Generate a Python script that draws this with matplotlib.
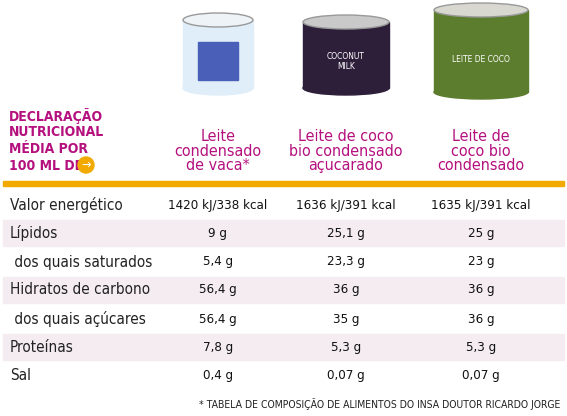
import matplotlib
matplotlib.use('Agg')
import matplotlib.pyplot as plt
from matplotlib.patches import Rectangle, Ellipse, Circle

plt.rcParams['font.family'] = ['DejaVu Sans']
plt.rcParams['font.stretch'] = 'condensed'

# data
products = ['Leite\ncondensado\nde vaca*', 'Leite de coco\nbio condensado\naçucarado', 'Leite de\ncoco bio\ncondensado']
nutrients = ['Valor energético', 'Lípidos', ' dos quais saturados', 'Hidratos de carbono',
             ' dos quais açúcares', 'Proteínas', 'Sal']
vaca = ['1420 kJ/338 kcal', '9 g', '5,4 g', '56,4 g', '56,4 g', '7,8 g', '0,4 g']
coco_acucarado = ['1636 kJ/391 kcal', '25,1 g', '23,3 g', '36 g', '35 g', '5,3 g', '0,07 g']
coco_bio = ['1635 kJ/391 kcal', '25 g', '23 g', '36 g', '36 g', '5,3 g', '0,07 g']
header = ['DECLARAÇÃO', 'NUTRICIONAL', 'MÉDIA POR', '100 ML DE']
note = '* TABELA DE COMPOSIÇÃO DE ALIMENTOS DO INSA DOUTOR RICARDO JORGE'

MAG = '#b5117e'
ORANGE = '#f2a900'

fig = plt.figure(figsize=(5.67, 4.16), dpi=100)
ax = fig.add_axes([0, 0, 1, 1])
ax.set_xlim(0, 567)
ax.set_ylim(416, 0)
ax.axis('off')

# stylised cans
def can(cx, top, w, h, body, lid, label=None):
    ax.add_patch(Rectangle((cx - w / 2, top), w, h, color=body, zorder=1))
    ax.add_patch(Ellipse((cx, top + h), w, 14, color=body, zorder=1))
    ax.add_patch(Ellipse((cx, top), w, 14, color=lid, ec='#999999', lw=1, zorder=2))
    if label:
        ax.text(cx, top + h * 0.6, label, color='white', ha='center', va='center', fontsize=6, zorder=3)

can(218, 20, 70, 68, '#dfeef8', '#eef3f8')
ax.add_patch(Rectangle((198, 42), 40, 38, color='#4a5fb8', zorder=2))
can(346, 22, 86, 66, '#2d1e3a', '#c9c9c9', 'COCONUT\nMILK')
can(481, 10, 94, 82, '#5d7d2e', '#d8d8d0', 'LEITE DE COCO')

# header
for i, line in enumerate(header):
    ax.text(9, 116 + i * 16.5, line, color=MAG, fontsize=10, fontweight='bold', va='center', ha='left')
ax.add_patch(Circle((86, 165), 8, color=ORANGE, zorder=3))
ax.text(86, 165, '→', color='white', fontsize=9, ha='center', va='center', zorder=4)
for x, p in zip([218, 346, 481], products):
    ax.text(x, 173, p, color=MAG, fontsize=11.5, ha='center', va='bottom', linespacing=0.95)

ax.add_patch(Rectangle((3, 181), 561, 5, color=ORANGE))

ys = [205, 233, 262, 290, 319, 347, 375]
for i, y in enumerate(ys):
    if i % 2 == 1:
        ax.add_patch(Rectangle((3, y - 13), 561, 26, color='#f4ecf0', zorder=0))
    ax.text(10, y, nutrients[i], fontsize=11, va='center', ha='left', color='#222222')
    ax.text(218, y, vaca[i], fontsize=9.5, va='center', ha='center', color='#111111')
    ax.text(346, y, coco_acucarado[i], fontsize=9.5, va='center', ha='center', color='#111111')
    ax.text(481, y, coco_bio[i], fontsize=9.5, va='center', ha='center', color='#111111')

ax.text(560, 404, note, fontsize=7.5, ha='right', va='center', color='#222222')

fig.savefig('out.png', dpi=100)
